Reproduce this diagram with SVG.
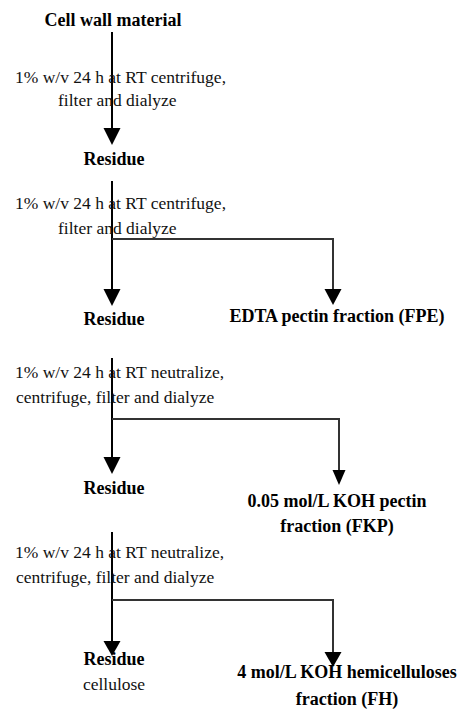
<svg xmlns="http://www.w3.org/2000/svg" width="470" height="709" viewBox="0 0 470 709">
<style>
text{font-family:'Liberation Serif','DejaVu Serif',serif}
.b{font-weight:bold;font-size:18px;fill:#000;text-anchor:middle}
.r{font-size:17.5px;fill:#111}
.c{text-anchor:middle}
.ln{stroke:#000;stroke-width:2;fill:none}
.ln2{stroke:#333;stroke-width:2;fill:none}
.ah{fill:#000}
</style>
<rect width="470" height="709" fill="#fff"/>
<g id="connectors">
<path class="ln" d="M112 32V130"/>
<polygon class="ah" points="103.5,128 120.5,128 112,145"/>
<path class="ln" d="M112 181V291"/>
<path class="ln2" d="M112 239H333V291"/>
<polygon class="ah" points="103.5,289 120.5,289 112,306"/>
<polygon class="ah" points="324.5,289 341.5,289 333,305"/>
<path class="ln" d="M112 358V459"/>
<path class="ln2" d="M112 419H339V472"/>
<polygon class="ah" points="103.5,457 120.5,457 112,474"/>
<polygon class="ah" points="332.5,470 345.5,470 339,485"/>
<path class="ln" d="M112 532V643"/>
<path class="ln2" d="M112 600H333V654"/>
<polygon class="ah" points="103.5,641 120.5,641 112,656"/>
<polygon class="ah" points="324.5,652 341.5,652 333,667"/>
</g>
<g id="cell-wall"><text class="b" x="113" y="26">Cell wall material</text></g>
<g id="step1-label">
<text class="r" x="15" y="83">1% w/v 24 h at RT centrifuge,</text>
<text class="r" x="58" y="106">filter and dialyze</text>
</g>
<g id="residue1"><text class="b" x="114" y="165">Residue</text></g>
<g id="step2-label">
<text class="r" x="15" y="209">1% w/v 24 h at RT centrifuge,</text>
<text class="r" x="58" y="234">filter and dialyze</text>
</g>
<g id="residue2"><text class="b" x="114" y="325">Residue</text></g>
<g id="fpe"><text class="b" x="337" y="322">EDTA pectin fraction (FPE)</text></g>
<g id="step3-label">
<text class="r" x="15" y="378">1% w/v 24 h at RT neutralize,</text>
<text class="r" x="16" y="403">centrifuge, filter and dialyze</text>
</g>
<g id="residue3"><text class="b" x="114" y="494">Residue</text></g>
<g id="fkp">
<text class="b" x="337" y="507">0.05 mol/L KOH pectin</text>
<text class="b" x="337" y="532">fraction (FKP)</text>
</g>
<g id="step4-label">
<text class="r" x="15" y="558">1% w/v 24 h at RT neutralize,</text>
<text class="r" x="16" y="583">centrifuge, filter and dialyze</text>
</g>
<g id="residue4">
<text class="b" x="114" y="665">Residue</text>
<text class="r c" x="114" y="690">cellulose</text>
</g>
<g id="fh">
<text class="b" x="347" y="678">4 mol/L KOH hemicelluloses</text>
<text class="b" x="347" y="705">fraction (FH)</text>
</g>
</svg>
